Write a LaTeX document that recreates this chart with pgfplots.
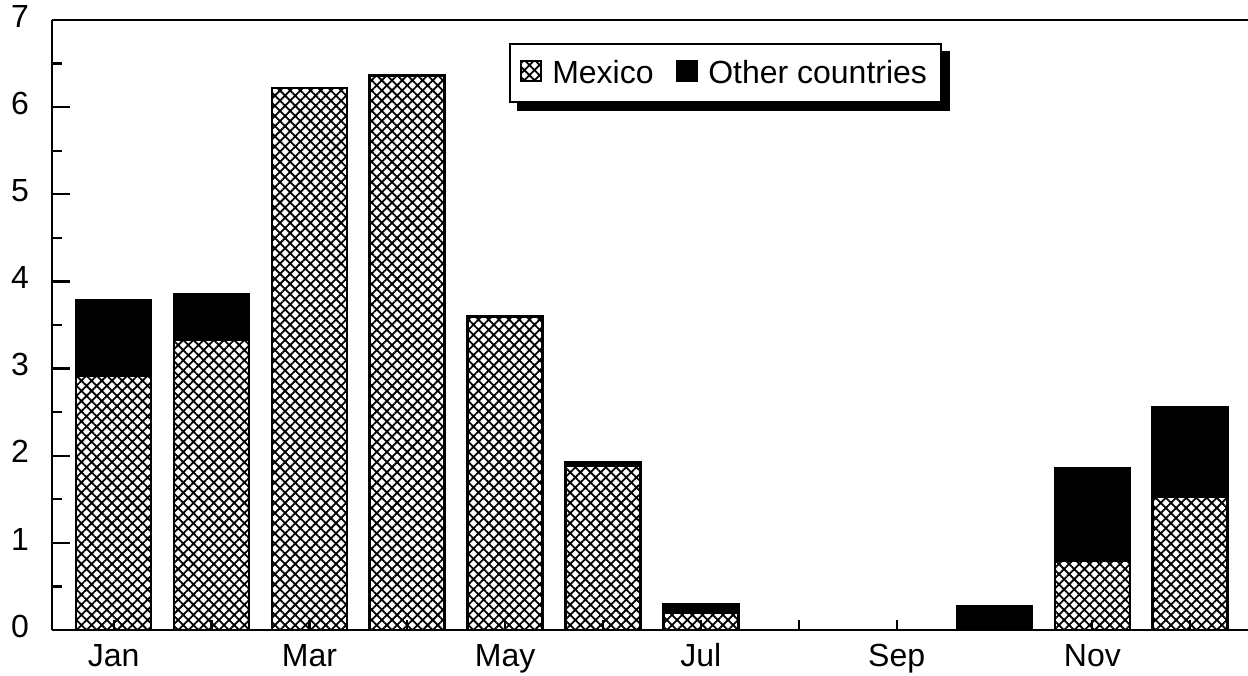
\documentclass[border=0pt]{standalone}
\usepackage{fontspec}
\setmainfont{Liberation Sans}
\usepackage{pgfplots}
\pgfplotsset{compat=1.18}
\usetikzlibrary{patterns.meta,backgrounds}

\begin{document}
\begin{tikzpicture}
\begin{axis}[
  scale only axis, width=598pt, height=305pt,
  ybar stacked, bar width=37.5pt,
  xmin=0.37, xmax=12.59, ymin=0, ymax=7,
  axis lines=left, axis line style={-, line width=1.3pt},
  xtick={1,...,12}, xticklabels={Jan,,Mar,,May,,Jul,,Sep,,Nov,},
  x tick style={draw=none},
  xticklabel style={yshift=-2pt},
  yticklabel style={xshift=-8pt},
  typeset ticklabels with strut,
  ytick={0,...,7}, minor ytick={0.5,1.5,...,6.5},
  tick align=inside, major tick length=9pt, minor tick length=5pt,
  tick style={line width=1.1pt, black},
  font=\fontsize{16}{18}\selectfont,
  /pgf/number format/assume math mode=true,
  axis on top,
  legend image code/.code={\draw[#1] (0pt,-4pt) rectangle (10pt,6pt);},
  legend style={name=leg, at={(0.563,0.913)}, anchor=center, legend columns=2,
    draw=black, line width=1pt, fill=white, inner xsep=5pt, inner ysep=6pt,
    font=\fontsize{16}{18}\selectfont,
    /tikz/every odd column/.append style={column sep=3pt},
    /tikz/every even column/.append style={column sep=9pt}},
]
\addplot[draw=black, line width=1.3pt, pattern={Hatch[angle=45,distance=3.6pt,line width=0.9pt]}]
  coordinates {(1,2.92) (2,3.33) (3,6.22) (4,6.36) (5,3.60) (6,1.89) (7,0.20) (8,0) (9,0) (10,0) (11,0.79) (12,1.53)};
\addplot[draw=black, line width=1.3pt, fill=black]
  coordinates {(1,0.86) (2,0.52) (3,0) (4,0) (5,0) (6,0.03) (7,0.10) (8,0) (9,0) (10,0.27) (11,1.07) (12,1.02)};
\legend{Mexico, Other countries}
\draw[line width=1.3pt] (rel axis cs:0,1) -- (rel axis cs:1,1);
\end{axis}
\begin{axis}[
  scale only axis, width=598pt, height=305pt,
  xmin=0.37, xmax=12.59, ymin=0, ymax=7,
  axis x line*=bottom, hide y axis, axis line style={draw=none},
  xtick={1,...,12}, xticklabels={},
  tick align=inside, major tick length=5pt,
  tick style={line width=1.1pt, black},
]
\end{axis}
\begin{scope}[on background layer]
\fill[black] ([xshift=4pt,yshift=-4pt]leg.south west) rectangle ([xshift=4pt,yshift=-4pt]leg.north east);
\end{scope}
\pgfresetboundingbox
\path ([xshift=-26pt,yshift=-23pt]current axis.south west) rectangle ([yshift=10pt]current axis.north east);
\end{tikzpicture}
\end{document}
